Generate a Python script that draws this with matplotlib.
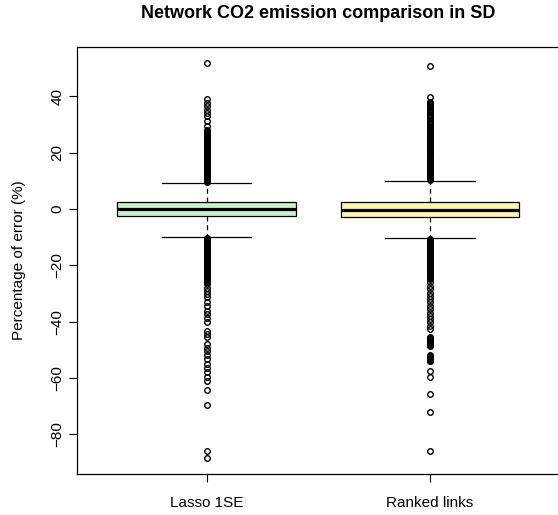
import matplotlib
matplotlib.use("Agg")
import matplotlib.pyplot as plt

plt.rcParams["font.family"] = ["Liberation Sans", "DejaVu Sans"]

categories = ["Lasso 1SE", "Ranked links"]
box_colors = ["#c6f3ca", "#fdf5b0"]

# box statistics (percentage of error)
medians = [0.0, -0.2]
q1 = [-2.5, -2.8]
q3 = [2.5, 2.3]
whisker_low = [-9.9, -10.3]
whisker_high = [9.2, 9.9]

# outliers, Lasso 1SE
lasso_high = [9.5, 9.8, 10.1, 10.4, 10.7, 11.0, 11.3, 11.6, 11.9, 12.2, 12.5, 12.8,
              13.1, 13.4, 13.7, 14.0, 14.3, 14.6, 14.9, 15.2, 15.5, 15.8, 16.1, 16.4,
              16.7, 17.0, 17.3, 17.6, 17.9, 18.2, 18.5, 18.8, 19.1, 19.4, 19.7, 20.0,
              20.3, 20.6, 20.9, 21.2, 21.5, 21.8, 22.1, 22.4, 22.7, 23.0, 23.3, 23.6,
              23.9, 24.2, 24.5, 24.8, 25.1, 25.4, 25.7, 26.0, 26.3, 26.6, 26.9, 27.2,
              27.6, 28.2, 29.4, 31.2, 32.9, 34.1, 35.3, 36.5, 37.7, 38.9, 51.9]
lasso_low = [-10.2, -10.5, -10.8, -11.1, -11.4, -11.7, -12.0, -12.3, -12.6, -12.9,
             -13.2, -13.5, -13.8, -14.1, -14.4, -14.7, -15.0, -15.3, -15.6, -15.9,
             -16.2, -16.5, -16.8, -17.1, -17.4, -17.7, -18.0, -18.3, -18.6, -18.9,
             -19.2, -19.5, -19.8, -20.1, -20.4, -20.7, -21.0, -21.3, -21.6, -21.9,
             -22.2, -22.5, -22.8, -23.1, -23.4, -23.7, -24.0, -24.3, -24.6, -24.9,
             -25.2, -25.5, -25.8, -26.7, -27.9, -29.1, -30.3, -31.4, -33.2, -34.4,
             -36.2, -37.3, -38.8, -40.3, -43.3, -44.4, -45.6, -48.0, -49.2, -50.4,
             -51.8, -53.3, -54.9, -56.3, -58.0, -59.8, -61.0, -64.3, -69.5, -85.8,
             -88.5]

# outliers, Ranked links
ranked_high = [10.2, 10.5, 10.8, 11.1, 11.4, 11.7, 12.0, 12.3, 12.6, 12.9, 13.2, 13.5,
               13.8, 14.1, 14.4, 14.7, 15.0, 15.3, 15.6, 15.9, 16.2, 16.5, 17.2, 17.5,
               18.1, 18.8, 19.1, 19.4, 19.7, 20.0, 20.3, 20.6, 20.9, 21.2, 21.5, 21.8,
               22.1, 22.4, 22.7, 23.0, 23.3, 23.6, 23.9, 24.2, 24.5, 24.8, 25.1, 25.4,
               25.7, 26.0, 26.3, 26.6, 26.9, 27.2, 27.5, 27.8, 28.1, 28.4, 28.7, 29.0,
               29.9, 30.2, 30.5, 30.8, 31.1, 31.4, 32.2, 32.5, 32.8, 33.1, 33.4, 33.7,
               34.5, 34.8, 35.1, 35.4, 36.3, 36.6, 36.9, 37.2, 37.5, 37.8, 39.7, 50.7]
ranked_low = [-10.7, -11.0, -11.3, -11.6, -11.9, -12.2, -12.5, -12.8, -13.1, -13.4,
              -13.7, -14.0, -14.3, -14.6, -14.9, -15.2, -15.5, -15.8, -16.1, -16.4,
              -16.7, -17.0, -17.3, -17.6, -17.9, -18.2, -18.5, -18.8, -19.1, -19.4,
              -19.7, -20.0, -20.3, -20.6, -20.9, -21.2, -21.5, -21.8, -22.1, -22.4,
              -22.7, -23.0, -23.3, -23.6, -23.9, -24.2, -24.5, -24.9, -26.1, -27.3,
              -28.5, -29.7, -30.9, -32.0, -33.2, -34.4, -35.6, -36.8, -37.9, -39.1,
              -40.3, -41.5, -42.7, -45.6, -45.9, -46.2, -46.5, -46.8, -47.1, -47.4,
              -47.7, -48.0, -48.3, -48.6, -51.8, -52.1, -52.4, -52.7, -53.0, -53.3,
              -53.6, -53.9, -54.1, -57.4, -59.6, -65.7, -72.2, -85.8]

fliers = [lasso_low + lasso_high, ranked_low + ranked_high]

fig = plt.figure(figsize=(5.58, 5.15), dpi=100)
W, H = 558.0, 515.0
ax = fig.add_axes([77 / W, (H - 474) / H, (559.5 - 77) / W, (474 - 47) / H])

stats = []
for i, name in enumerate(categories):
    stats.append({
        "label": name,
        "med": medians[i],
        "q1": q1[i],
        "q3": q3[i],
        "whislo": whisker_low[i],
        "whishi": whisker_high[i],
        "fliers": fliers[i],
    })

bp = ax.bxp(
    stats,
    positions=[1, 2],
    widths=0.8,
    capwidths=0.4,
    patch_artist=True,
    boxprops=dict(edgecolor="black", linewidth=0.9),
    medianprops=dict(color="black", linewidth=2.3, solid_capstyle="butt"),
    whiskerprops=dict(color="black", linewidth=0.9, linestyle=(0, (4, 3))),
    capprops=dict(color="black", linewidth=0.9),
    flierprops=dict(marker="o", markerfacecolor="none", markeredgecolor="black",
                    markersize=4.0, markeredgewidth=1.0),
)
for patch, c in zip(bp["boxes"], box_colors):
    patch.set_facecolor(c)

ax.set_xlim(0.42, 2.58)
ax.set_ylim(-94.1, 57.5)
ax.set_yticks([-80, -60, -40, -20, 0, 20, 40])
ax.set_xticks([1, 2])
ax.set_xticklabels(categories)
for lab in ax.get_yticklabels():
    lab.set_rotation(90)
    lab.set_va("center")

ax.tick_params(axis="both", labelsize=11, length=6, width=0.8, color="black")
ax.tick_params(axis="x", pad=10)
ax.tick_params(axis="y", pad=3)
for s in ax.spines.values():
    s.set_linewidth(0.9)
ax.spines["right"].set_visible(False)

ax.set_ylabel("Percentage of error (%)", fontsize=11)
ax.yaxis.set_label_coords((26 - 77) / (559.5 - 77), 0.5)

fig.text(318 / W, 1 - 14 / H, "Network CO2 emission comparison in SD",
         fontsize=13, fontweight="bold", ha="center", va="center")

fig.savefig("out.png", dpi=100)
